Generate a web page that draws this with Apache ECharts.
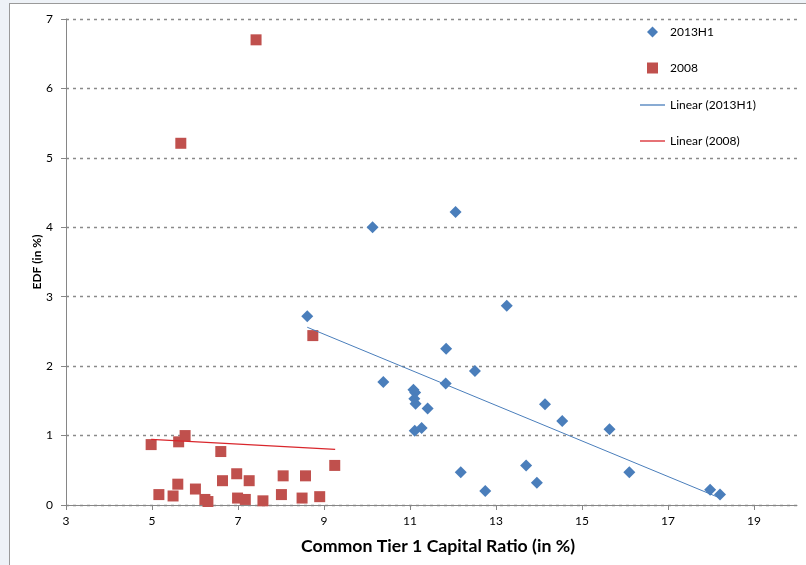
<!DOCTYPE html>
<html>
<head>
<meta charset="utf-8">
<script src="https://cdn.jsdelivr.net/npm/echarts@6/dist/echarts.min.js"></script>
<style>
  html, body { margin: 0; padding: 0; width: 806px; height: 565px; overflow: hidden; background: #eef2f7; }
  #frame { position: absolute; left: 9px; top: 3px; width: 820px; height: 580px; background: #ffffff;
           border-left: 1px solid #9a9a9a; border-top: 1px solid #9a9a9a; }
  #chart { position: absolute; left: 0; top: 0; width: 806px; height: 565px; }
</style>
</head>
<body>
<div id="frame"></div>
<div id="chart"></div>
<script>
// Common Tier 1 capital ratio (x, %) against EDF (y, %)
const bank2013H1 = [
  [8.61, 2.72], [10.13, 4.00], [10.38, 1.77], [12.06, 4.22], [11.08, 1.66],
  [11.12, 1.62], [11.10, 1.53], [11.13, 1.46], [11.41, 1.39], [11.11, 1.07],
  [11.27, 1.11], [11.84, 2.25], [11.83, 1.75], [12.51, 1.93], [13.25, 2.87],
  [12.18, 0.47], [12.75, 0.20], [13.70, 0.57], [13.95, 0.32], [14.14, 1.45],
  [14.54, 1.21], [15.64, 1.09], [16.10, 0.47], [17.98, 0.22], [18.21, 0.15]
];
const bank2008 = [
  [4.98, 0.87], [5.62, 0.91], [5.77, 1.00], [6.60, 0.77], [5.16, 0.15],
  [5.49, 0.13], [5.60, 0.30], [6.01, 0.23], [6.23, 0.08], [6.30, 0.05],
  [6.64, 0.35], [6.97, 0.45], [6.99, 0.10], [7.17, 0.08], [7.26, 0.35],
  [7.58, 0.06], [8.01, 0.15], [8.05, 0.42], [8.49, 0.10], [8.57, 0.42],
  [8.90, 0.12], [9.25, 0.57], [8.74, 2.44], [5.67, 5.21], [7.42, 6.70]
];
// Linear trend lines (start and end points)
const trend2013H1 = [[8.61, 2.56], [18.21, 0.10]];
const trend2008 = [[4.98, 0.945], [9.26, 0.80]];

const xTicks = [3, 5, 7, 9, 11, 13, 15, 17, 19];
const yTicks = [0, 1, 2, 3, 4, 5, 6, 7];
const xMax = 20;

const FONT = 'Lato';
const BLUE = '#4a7ebb';
const RED = '#c0504d';
const TREND_RED = '#d9262c';

const chart = echarts.init(document.getElementById('chart'), null, { renderer: 'canvas' });

const dashed = { color: '#8a8a8a', type: [3, 4], width: 1.3 };

chart.setOption({
  backgroundColor: 'transparent',
  animation: false,
  grid: { left: 66, right: 9, top: 19, bottom: 60, containLabel: false, outerBoundsMode: 'none' },
  xAxis: {
    type: 'value',
    min: xTicks[0], max: xMax, interval: xTicks[1] - xTicks[0],
    name: 'Common Tier 1 Capital Ratio (in %)',
    nameLocation: 'middle', nameGap: 32, nameMoveOverlap: false,
    nameTextStyle: { fontFamily: FONT, fontWeight: 'bold', fontSize: 17.7, color: '#000', padding: [0, 0, 0, 13] },
    axisLine: { show: true, lineStyle: { color: '#868686', width: 1 } },
    axisTick: { show: true, length: 5, lineStyle: { color: '#868686' } },
    axisLabel: {
      margin: 10, fontFamily: FONT, fontSize: 12, color: '#000',
      showMaxLabel: false,
      formatter: v => (xTicks.indexOf(v) >= 0 ? String(v) : '')
    },
    splitLine: { show: false }
  },
  yAxis: {
    type: 'value',
    min: yTicks[0], max: yTicks[yTicks.length - 1], interval: yTicks[1] - yTicks[0],
    name: 'EDF (in %)',
    nameLocation: 'middle', nameGap: 23, nameMoveOverlap: false,
    nameTextStyle: { fontFamily: FONT, fontWeight: 'bold', fontSize: 12, color: '#000' },
    axisLine: { show: true, lineStyle: { color: '#868686', width: 1 } },
    axisTick: { show: true, length: 5, lineStyle: { color: '#868686' } },
    axisLabel: { margin: 13, fontFamily: FONT, fontSize: 12, color: '#000' },
    splitLine: { show: true, lineStyle: dashed }
  },
  legend: [
    {
      data: ['2013H1', '2008'],
      orient: 'vertical', left: 647, top: 26, padding: 0,
      itemWidth: 11, itemHeight: 11, itemGap: 24,
      textStyle: { fontFamily: FONT, fontSize: 12, color: '#000', padding: [0, 0, 0, 7] }
    },
    {
      data: [
        { name: 'Linear (2013H1)', icon: 'rect', itemStyle: { color: BLUE } },
        { name: 'Linear (2008)', icon: 'rect', itemStyle: { color: TREND_RED } }
      ],
      orient: 'vertical', left: 640, top: 99, padding: 0,
      itemWidth: 25, itemHeight: 1.3, itemGap: 24,
      textStyle: { fontFamily: FONT, fontSize: 12, color: '#000' }
    }
  ],
  series: [
    {
      name: '2013H1', type: 'scatter', data: bank2013H1,
      symbol: 'diamond', symbolSize: 12,
      itemStyle: { color: BLUE, opacity: 1 }, z: 3
    },
    {
      name: '2008', type: 'scatter', data: bank2008,
      symbol: 'rect', symbolSize: 11,
      itemStyle: { color: RED, opacity: 1 }, z: 3
    },
    {
      name: 'Linear (2013H1)', type: 'line', data: trend2013H1,
      symbol: 'none', showSymbol: false,
      lineStyle: { color: BLUE, width: 1 }, itemStyle: { color: BLUE }, z: 4
    },
    {
      name: 'Linear (2008)', type: 'line', data: trend2008,
      symbol: 'none', showSymbol: false,
      lineStyle: { color: TREND_RED, width: 1.2 }, itemStyle: { color: TREND_RED }, z: 4
    }
  ]
});
</script>
</body>
</html>
